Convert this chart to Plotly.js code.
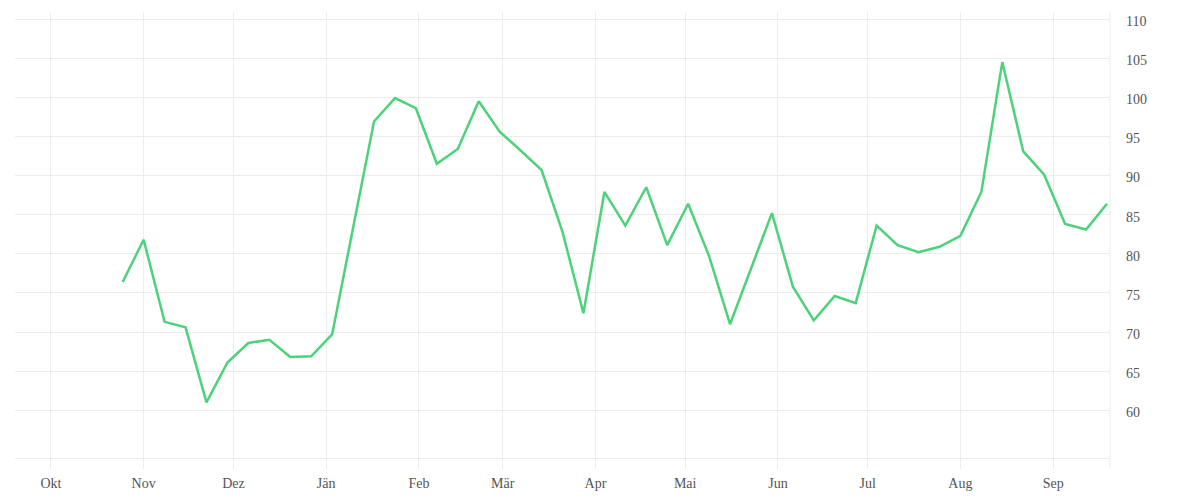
<!DOCTYPE html>
<html>
<head>
<meta charset="utf-8">
<script src="https://cdn.plot.ly/plotly-3.0.1.min.js"></script>
<style>
  html, body { margin: 0; padding: 0; background: #fff; }
  #chart { width: 1200px; height: 500px; }
</style>
</head>
<body>
<div id="chart"></div>
<script>
var weeks = [
  "2018-10-25",
  "2018-11-01", "2018-11-08", "2018-11-15", "2018-11-22", "2018-11-29",
  "2018-12-06", "2018-12-13", "2018-12-20", "2018-12-27",
  "2019-01-03", "2019-01-10", "2019-01-17", "2019-01-24", "2019-01-31",
  "2019-02-07", "2019-02-14", "2019-02-21", "2019-02-28",
  "2019-03-07", "2019-03-14", "2019-03-21", "2019-03-28",
  "2019-04-04", "2019-04-11", "2019-04-18", "2019-04-25",
  "2019-05-02", "2019-05-09", "2019-05-16", "2019-05-23", "2019-05-30",
  "2019-06-06", "2019-06-13", "2019-06-20", "2019-06-27",
  "2019-07-04", "2019-07-11", "2019-07-18", "2019-07-25",
  "2019-08-01", "2019-08-08", "2019-08-15", "2019-08-22", "2019-08-29",
  "2019-09-05", "2019-09-12", "2019-09-19"
];

var values = [
  76.4,
  81.8, 71.3, 70.6, 61.0, 66.1,
  68.6, 69.0, 66.8, 66.9,
  69.7, 83.2, 96.9, 99.9, 98.6,
  91.5, 93.4, 99.5, 95.6,
  93.2, 90.7, 82.8, 72.4,
  87.9, 83.6, 88.5, 81.1,
  86.4, 79.7, 71.0, 78.1, 85.2,
  75.8, 71.5, 74.6, 73.7,
  83.6, 81.1, 80.2, 80.9,
  82.3, 87.9, 104.5, 93.1, 90.1,
  83.8, 83.1, 86.4
];

var monthTicks = [
  "2018-10-01", "2018-11-01", "2018-12-01", "2019-01-01", "2019-02-01", "2019-03-01",
  "2019-04-01", "2019-05-01", "2019-06-01", "2019-07-01", "2019-08-01", "2019-09-01"
];
var monthLabels = ["Okt", "Nov", "Dez", "Jän", "Feb", "Mär", "Apr", "Mai", "Jun", "Jul", "Aug", "Sep"];

var yTicks = [60, 65, 70, 75, 80, 85, 90, 95, 100, 105, 110];

var gridColor = "#ececec";

window.onload = function() {
  var trace = {
    x: weeks,
    y: values,
    type: "scatter",
    mode: "lines",
    line: { color: "#4cd27a", width: 2.5 },
    hoverinfo: "x+y"
  };

  var layout = {
    width: 1200,
    height: 500,
    margin: { l: 15, r: 90, t: 12, b: 42 },
    paper_bgcolor: "#fff",
    plot_bgcolor: "#fff",
    showlegend: false,
    font: { family: "'Liberation Serif', 'DejaVu Serif', serif", size: 14, color: "#555" },
    xaxis: {
      type: "date",
      range: ["2018-09-19", "2019-09-20"],
      tickvals: monthTicks,
      ticktext: monthLabels,
      showgrid: true,
      gridcolor: gridColor,
      gridwidth: 1,
      ticks: "outside",
      ticklen: 10,
      tickcolor: gridColor,
      ticklabelstandoff: 2,
      showline: true,
      linecolor: gridColor,
      linewidth: 1,
      zeroline: false
    },
    yaxis: {
      side: "right",
      range: [53.9, 110.9],
      tickvals: yTicks,
      showgrid: true,
      gridcolor: gridColor,
      gridwidth: 1,
      ticks: "",
      ticklabelstandoff: 15,
      ticklabelshift: 2,
      zeroline: false,
      showline: false
    },
    shapes: [
      // right border, runs down like the x ticks
      {
        type: "line",
        xref: "paper", yref: "paper",
        x0: 1, x1: 1, y0: -10 / 446, y1: 1,
        line: { color: gridColor, width: 1 },
        layer: "below"
      }
    ]
  };

  Plotly.newPlot("chart", [trace], layout, { displayModeBar: false, staticPlot: true });
};
</script>
</body>
</html>
